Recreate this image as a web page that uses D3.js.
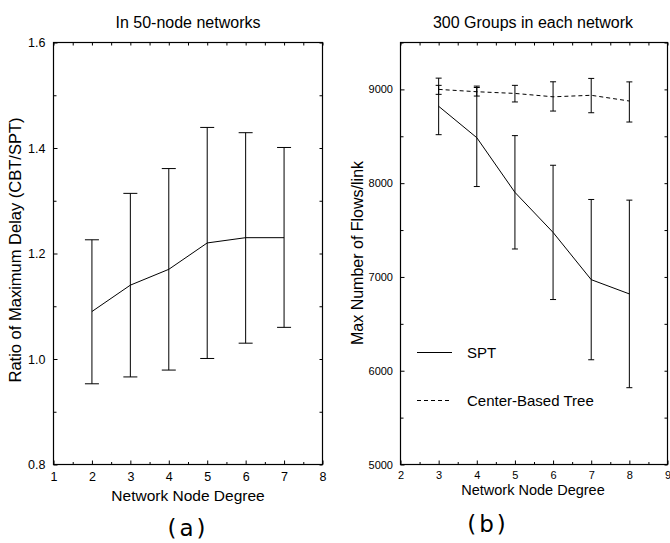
<!DOCTYPE html>
<html>
<head>
<meta charset="utf-8">
<script src="https://cdn.jsdelivr.net/npm/d3@7"></script>
<style>
  body { margin: 0; background: #fff; }
  svg { font-family: "Liberation Sans", Arial, sans-serif; }
  .axis path { display: none; }
  .axis line { stroke: #000; }
  .axis text { fill: #000; }
</style>
</head>
<body>
<div id="chart"></div>
<script>
// panel (a): delay ratio vs node degree
var degA = [2, 3, 4, 5, 6, 7];
var ratioMean = [1.09, 1.14, 1.17, 1.22, 1.23, 1.23];
var ratioHi = [1.226, 1.314, 1.361, 1.439, 1.429, 1.401];
var ratioLo = [0.953, 0.966, 0.979, 1.001, 1.030, 1.060];
var ticksA_y = [0.8, 1.0, 1.2, 1.4, 1.6];
var ticksA_x = [1, 2, 3, 4, 5, 6, 7, 8];

// panel (b): max flows per link
var degB = [3, 4, 5, 6, 7, 8];
var sptMean = [8820, 8485, 7902, 7475, 6971, 6819];
var sptHi = [9120, 9020, 8507, 8191, 7826, 7819];
var sptLo = [8517, 7964, 7298, 6759, 6117, 5819];
var cbtMean = [9000, 8975, 8957, 8921, 8937, 8876];
var cbtHi = [9043, 9035, 9043, 9081, 9117, 9080];
var cbtLo = [8947, 8929, 8866, 8769, 8751, 8652];
var ticksB_y = [5000, 6000, 7000, 8000, 9000];
var ticksB_x = [2, 3, 4, 5, 6, 7, 8, 9];

var svg = d3.select("#chart").append("svg")
    .attr("width", 670)
    .attr("height", 543);

// draws frame + inward ticks on all four sides
function drawFrame(g, x, y, opt) {
    var w = x.range()[1] - x.range()[0];
    var h = y.range()[0] - y.range()[1];

    g.append("g").attr("class", "axis")
        .attr("transform", `translate(0,${h})`)
        .call(d3.axisBottom(x).tickValues(opt.xTicks).tickSize(-4).tickPadding(opt.xPad).tickFormat(d3.format("d")))
        .selectAll("text").style("font-size", opt.xFont + "px");
    g.append("g").attr("class", "axis")
        .attr("transform", `translate(0,${h})`)
        .call(d3.axisBottom(x).tickValues(opt.xMinor).tickSize(-2.5).tickFormat(""));
    g.append("g").attr("class", "axis")
        .call(d3.axisTop(x).tickValues(opt.xMinor.concat(opt.xTicks)).tickSize(-3).tickFormat(""));

    g.append("g").attr("class", "axis")
        .call(d3.axisLeft(y).tickValues(opt.yTicks).tickSize(-4).tickPadding(opt.yPad).tickFormat(opt.yFormat))
        .selectAll("text").style("font-size", opt.yFont + "px");
    g.append("g").attr("class", "axis")
        .call(d3.axisLeft(y).tickValues(opt.yMinor).tickSize(-3).tickFormat(""));
    g.append("g").attr("class", "axis")
        .attr("transform", `translate(${w},0)`)
        .call(d3.axisRight(y).tickValues(opt.yMinor.concat(opt.yTicks)).tickSize(-3).tickFormat(""));

    g.append("rect")
        .attr("x", 0).attr("y", 0)
        .attr("width", w).attr("height", h)
        .attr("fill", "none")
        .attr("stroke", "#000")
        .attr("stroke-width", 1.2);
}

function errorBars(g, x, y, xs, lo, hi, cap) {
    xs.forEach(function(d, i) {
        var cx = x(d);
        g.append("line").attr("x1", cx).attr("x2", cx)
            .attr("y1", y(lo[i])).attr("y2", y(hi[i]))
            .attr("stroke", "#000");
        [lo[i], hi[i]].forEach(function(v) {
            g.append("line").attr("x1", cx - cap).attr("x2", cx + cap)
                .attr("y1", y(v)).attr("y2", y(v))
                .attr("stroke", "#000");
        });
    });
}

// ---------- panel (a) ----------
var xA = d3.scaleLinear().domain([1, 8]).range([0, 269]);
var yA = d3.scaleLinear().domain([0.8, 1.6]).range([422, 0]);
var gA = svg.append("g").attr("transform", "translate(53.5,42.5)");

drawFrame(gA, xA, yA, {
    xTicks: ticksA_x, xMinor: d3.range(1.5, 8, 1), xPad: 8, xFont: 12.5,
    yTicks: ticksA_y, yMinor: d3.range(0.9, 1.6, 0.2), yPad: 8, yFont: 12.5,
    yFormat: d3.format(".1f")
});

errorBars(gA, xA, yA, degA, ratioLo, ratioHi, 7);

gA.append("path")
    .datum(degA.map(function(d, i) { return [d, ratioMean[i]]; }))
    .attr("fill", "none")
    .attr("stroke", "#000")
    .attr("d", d3.line().x(d => xA(d[0])).y(d => yA(d[1])));

svg.append("text")
    .attr("x", 188).attr("y", 27.5)
    .attr("text-anchor", "middle")
    .style("font-size", "16px")
    .text("In 50-node networks");

svg.append("text")
    .attr("transform", "translate(21,250) rotate(-90)")
    .attr("text-anchor", "middle")
    .style("font-size", "16.5px")
    .text("Ratio of Maximum Delay (CBT/SPT)");

svg.append("text")
    .attr("x", 188).attr("y", 501)
    .attr("text-anchor", "middle")
    .style("font-size", "15.5px")
    .text("Network Node Degree");

svg.append("text")
    .attr("x", 188).attr("y", 536)
    .attr("text-anchor", "middle")
    .style("font-family", "DejaVu Sans")
    .style("font-size", "23px")
    .style("letter-spacing", "3px")
    .text("(a)");

// ---------- panel (b) ----------
var xB = d3.scaleLinear().domain([2, 9]).range([0, 267]);
var yB = d3.scaleLinear().domain([5000, 9500]).range([422, 0]);
var gB = svg.append("g").attr("transform", "translate(400.5,42.5)");

drawFrame(gB, xB, yB, {
    xTicks: ticksB_x, xMinor: d3.range(2.5, 9, 1), xPad: 7, xFont: 11,
    yTicks: ticksB_y, yMinor: [5500, 6500, 7500, 8500, 9500], yPad: 7.5, yFont: 11,
    yFormat: d3.format("d")
});

errorBars(gB, xB, yB, degB, sptLo, sptHi, 3);
errorBars(gB, xB, yB, degB, cbtLo, cbtHi, 3);

gB.append("path")
    .datum(degB.map(function(d, i) { return [d, sptMean[i]]; }))
    .attr("fill", "none")
    .attr("stroke", "#000")
    .attr("d", d3.line().x(d => xB(d[0])).y(d => yB(d[1])));

gB.append("path")
    .datum(degB.map(function(d, i) { return [d, cbtMean[i]]; }))
    .attr("fill", "none")
    .attr("stroke", "#000")
    .attr("stroke-dasharray", "4,3")
    .attr("d", d3.line().x(d => xB(d[0])).y(d => yB(d[1])));

// legend
var legend = [
    { label: "SPT", dash: null, y: 352.5 },
    { label: "Center-Based Tree", dash: "4,3", y: 400.5 }
];
legend.forEach(function(l) {
    svg.append("line")
        .attr("x1", 417).attr("x2", 452)
        .attr("y1", l.y).attr("y2", l.y)
        .attr("stroke", "#000")
        .attr("stroke-dasharray", l.dash);
    svg.append("text")
        .attr("x", 467).attr("y", l.y + 5.5)
        .style("font-size", "15px")
        .text(l.label);
});

svg.append("text")
    .attr("x", 533).attr("y", 27.5)
    .attr("text-anchor", "middle")
    .style("font-size", "16px")
    .text("300 Groups in each network");

svg.append("text")
    .attr("transform", "translate(363,253) rotate(-90)")
    .attr("text-anchor", "middle")
    .style("font-size", "16px")
    .text("Max Number of Flows/link");

svg.append("text")
    .attr("x", 533).attr("y", 494.5)
    .attr("text-anchor", "middle")
    .style("font-size", "14.5px")
    .text("Network Node Degree");

svg.append("text")
    .attr("x", 488).attr("y", 532)
    .attr("text-anchor", "middle")
    .style("font-family", "DejaVu Sans")
    .style("font-size", "23px")
    .style("letter-spacing", "3px")
    .text("(b)");
</script>
</body>
</html>
